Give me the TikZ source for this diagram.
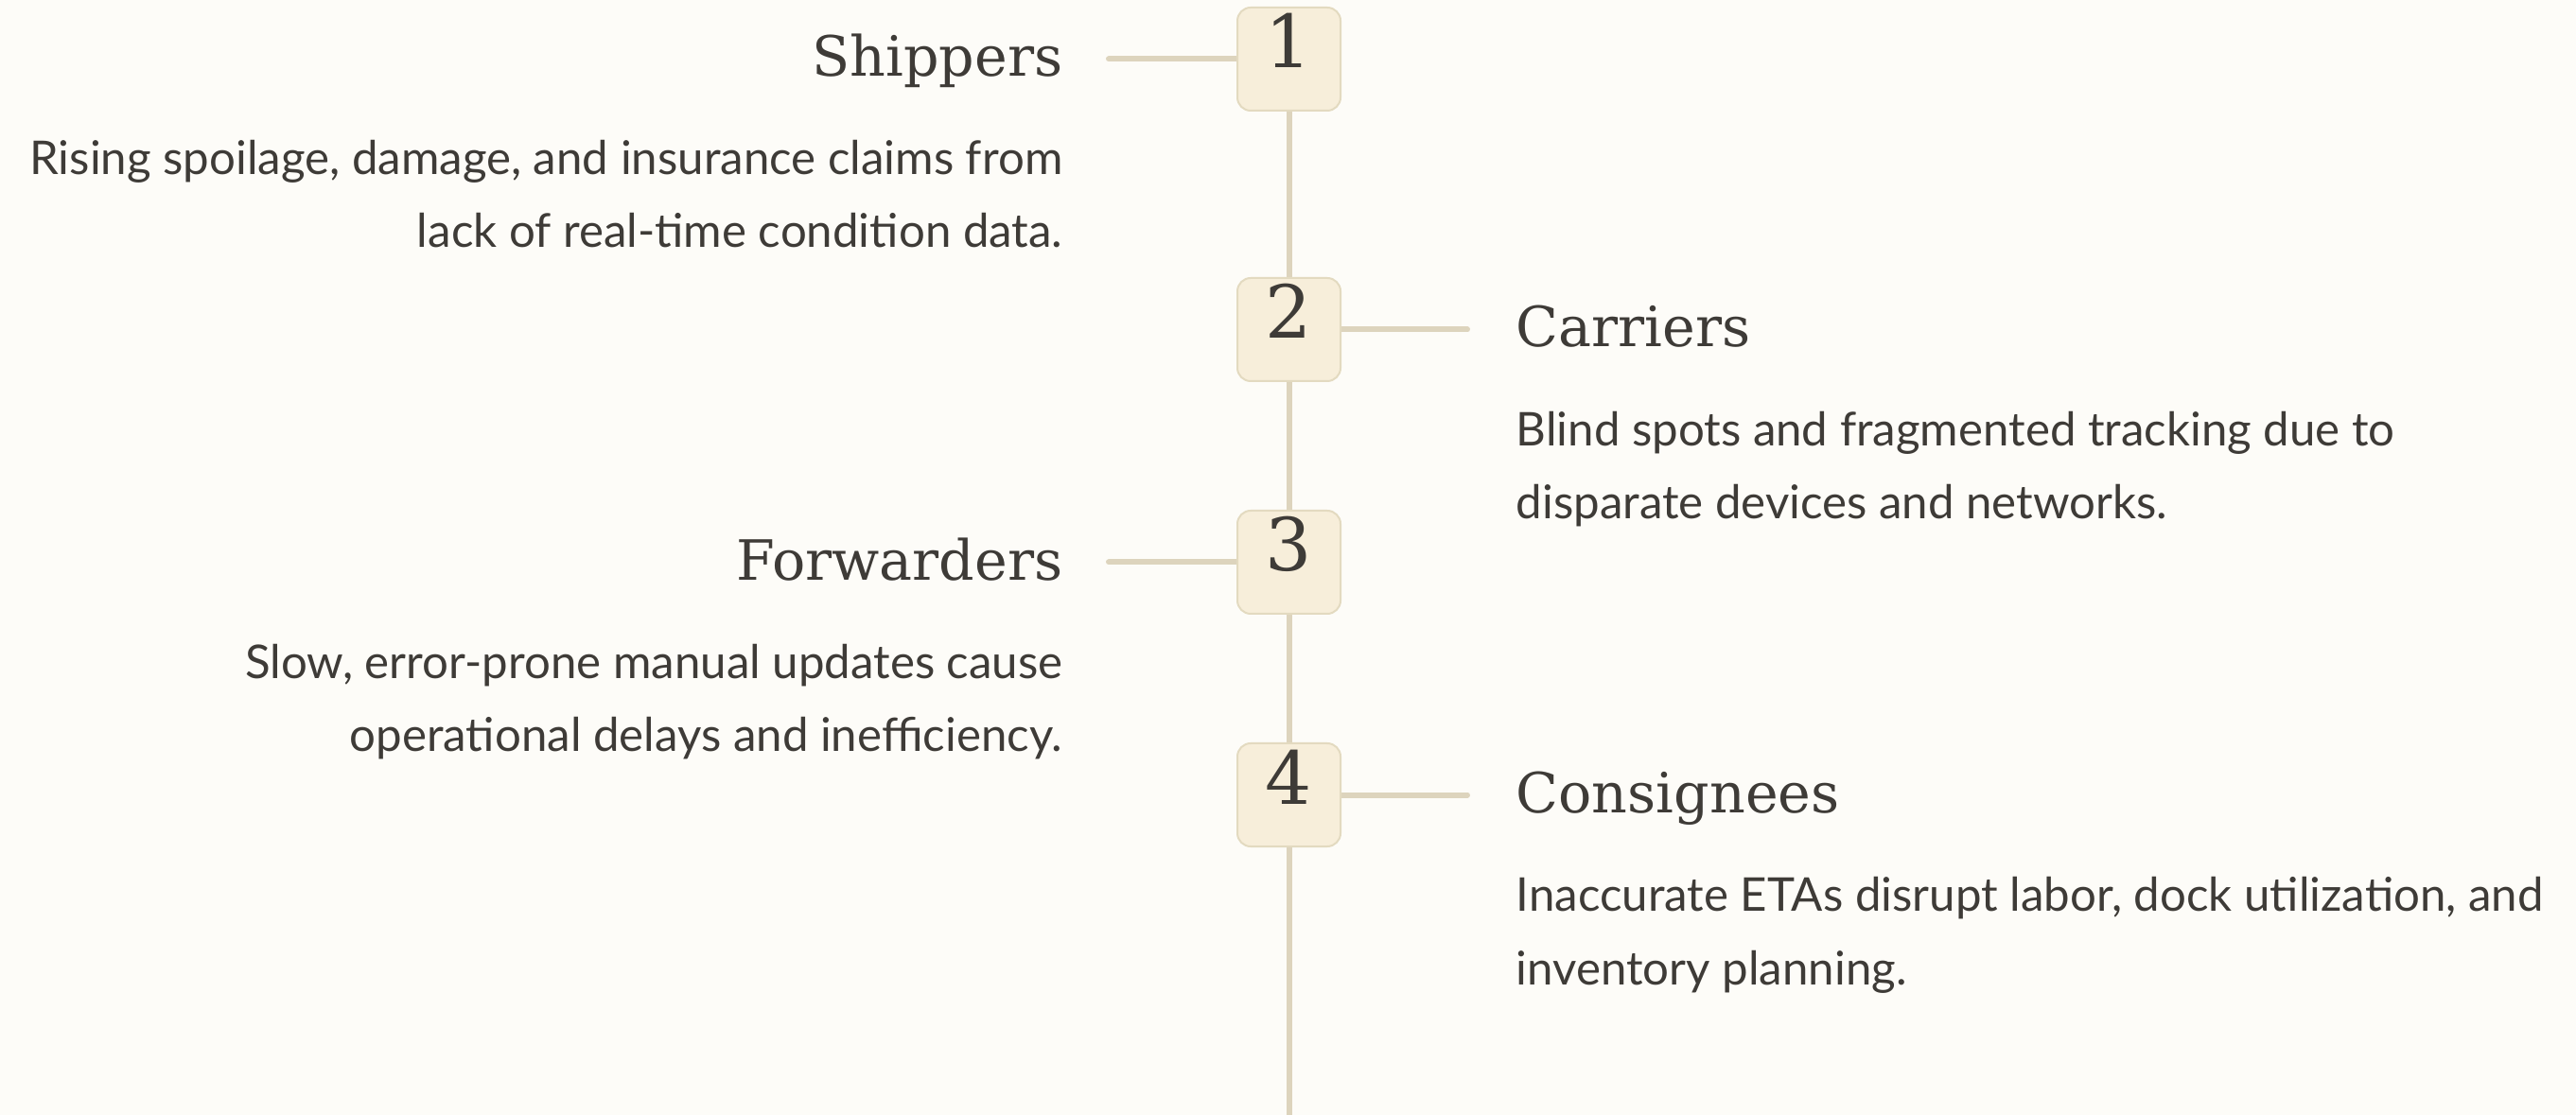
\documentclass[tikz,border=0pt]{standalone}
\usepackage{fontspec}
\setmainfont{Lato}
\newfontfamily\headfont{DejaVu Serif}
\usepackage{tikz}
\usetikzlibrary{positioning, backgrounds}
\definecolor{paper}{HTML}{FDFCF8}
\definecolor{spine}{HTML}{DDD4BD}
\definecolor{boxfill}{HTML}{F7EEDA}
\definecolor{boxedge}{HTML}{E3DAC0}
\definecolor{ink}{HTML}{3E3B37}
\tikzstyle{numbox} = [rectangle, rounded corners=0.14cm, draw=boxedge, line width=0.02cm, fill=boxfill, minimum width=1.09cm, minimum height=1.09cm, inner sep=0pt, text height=0.55cm, text depth=0.36cm, font=\headfont\fontsize{22}{22}\selectfont, text=ink]
\tikzstyle{title} = [inner sep=0pt, text=ink, font=\headfont\fontsize{16.7}{20}\selectfont]
\tikzstyle{desc} = [inner sep=0pt, text=ink, font=\fontsize{14}{22}\selectfont]
\tikzstyle{link} = [line width=0.06cm, draw=spine, line cap=round]

\begin{document}
\begin{tikzpicture}
    \useasboundingbox (0,0) rectangle (27.23,-11.79);

    % Numbered steps on the spine
    \node (n1) [numbox] at (13.625,-0.625) {1};
    \node (n2) [numbox] at (13.625,-3.485) {2};
    \node (n3) [numbox] at (13.625,-5.945) {3};
    \node (n4) [numbox] at (13.625,-8.405) {4};
    \coordinate (tail) at (13.625,-11.79);

    % Left side (base anchor of a two-line text sits on its last line)
    \node (shippers) [title, anchor=base east] at ([xshift=-2.385cm, yshift=-0.18cm]n1.center) {Shippers};
    \node (shipdesc) [desc, anchor=base east, align=right] at ([yshift=-1.815cm]shippers.base east) {Rising spoilage, damage, and insurance claims from\\lack of real-time condition data.};
    \node (forwarders) [title, anchor=base east] at ([xshift=-2.385cm, yshift=-0.19cm]n3.center) {Forwarders};
    \node (fwddesc) [desc, anchor=base east, align=right] at ([yshift=-1.815cm]forwarders.base east) {Slow, error-prone manual updates cause\\operational delays and inefficiency.};

    % Right side
    \node (carriers) [title, anchor=base west] at ([xshift=2.395cm, yshift=-0.185cm]n2.center) {Carriers};
    \node (carrdesc) [desc, anchor=base west, align=left] at ([yshift=-1.815cm]carriers.base west) {Blind spots and fragmented tracking due to\\disparate devices and networks.};
    \node (consignees) [title, anchor=base west] at ([xshift=2.395cm, yshift=-0.19cm]n4.center) {Consignees};
    \node (consdesc) [desc, anchor=base west, align=left] at ([yshift=-1.815cm]consignees.base west) {Inaccurate ETAs disrupt labor, dock utilization, and\\inventory planning.};

    \begin{scope}[on background layer]
        \fill [paper] (0,0) rectangle (27.23,-11.79);
        \draw [link, line cap=butt] (n1.center) -- (tail);
        \draw [link] (n1.west) -- ++(-1.35,0);
        \draw [link] (n2.east) -- ++(1.33,0);
        \draw [link] (n3.west) -- ++(-1.35,0);
        \draw [link] (n4.east) -- ++(1.33,0);
    \end{scope}
\end{tikzpicture}
\end{document}
